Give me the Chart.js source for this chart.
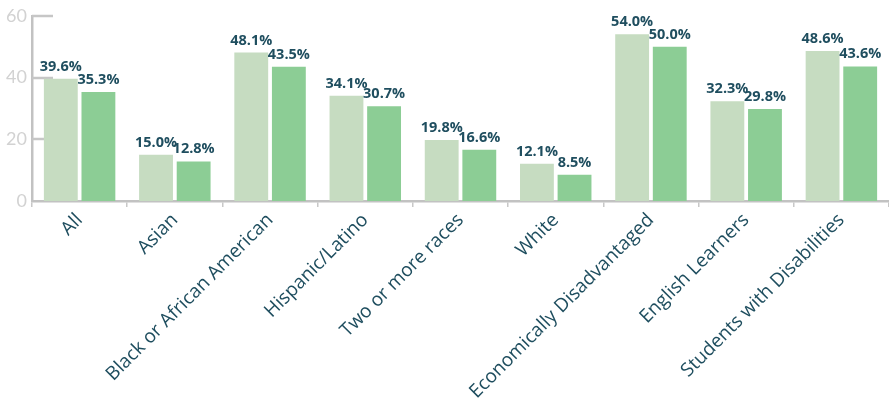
<!DOCTYPE html>
<html>
<head>
<meta charset="utf-8">
<script src="https://cdn.jsdelivr.net/npm/chart.js@4"></script>
<style>
  html, body { margin: 0; padding: 0; background: #ffffff; }
  #wrap { width: 889px; height: 404px; }
</style>
</head>
<body>
<div id="wrap"><canvas id="chart"></canvas></div>
<script>
// Subgroup categories along the x axis
var categories = [
    'All', 'Asian', 'Black or African American', 'Hispanic/Latino',
    'Two or more races', 'White', 'Economically Disadvantaged',
    'English Learners', 'Students with Disabilities'
];

// Two series (percent)
var seriesLight = [39.6, 15.0, 48.1, 34.1, 19.8, 12.1, 54.0, 32.3, 48.6];
var seriesDark  = [35.3, 12.8, 43.5, 30.7, 16.6, 8.5, 50.0, 29.8, 43.6];

// Y axis ticks
var yTicks = [0, 20, 40, 60];

var LABEL_COLOR = '#1f4e5f';

// Plugin: short inward tick marks on the y axis, drawn under the bars
var innerTicks = {
    id: 'innerTicks',
    beforeDatasetsDraw: function(chart) {
        var ctx = chart.ctx;
        var y = chart.scales.y;
        var left = chart.chartArea.left;
        ctx.save();
        ctx.strokeStyle = '#c6c6c6';
        ctx.lineWidth = 2.5;
        yTicks.forEach(function(v) {
            if (v === 0) return;
            var py = Math.round(y.getPixelForValue(v));
            ctx.beginPath();
            ctx.moveTo(left, py);
            ctx.lineTo(left + 21, py);
            ctx.stroke();
        });
        ctx.restore();
    }
};

// Plugin: value labels above each bar
var valueLabels = {
    id: 'valueLabels',
    afterDatasetsDraw: function(chart) {
        var ctx = chart.ctx;
        ctx.save();
        ctx.fillStyle = LABEL_COLOR;
        ctx.font = 'bold 14.5px "Open Sans", sans-serif';
        ctx.textAlign = 'center';
        ctx.textBaseline = 'alphabetic';
        chart.data.datasets.forEach(function(ds, di) {
            var meta = chart.getDatasetMeta(di);
            meta.data.forEach(function(bar, i) {
                ctx.fillText(ds.data[i].toFixed(1) + '%', bar.x, bar.y - 8);
            });
        });
        ctx.restore();
    }
};

new Chart(document.getElementById('chart'), {
    type: 'bar',
    data: {
        labels: categories,
        datasets: [{
            label: 'Series 1',
            data: seriesLight,
            backgroundColor: '#c6dcc1',
            categoryPercentage: 0.79,
            barPercentage: 0.9,
        }, {
            label: 'Series 2',
            data: seriesDark,
            backgroundColor: '#8ccd95',
            categoryPercentage: 0.79,
            barPercentage: 0.9,
        }],
    },
    options: {
        responsive: true,
        maintainAspectRatio: false,
        animation: false,
        layout: { padding: { top: 6, right: -3, left: 0, bottom: 0 } },
        plugins: {
            legend: { display: false },
            tooltip: { enabled: false },
        },
        scales: {
            y: {
                min: 0,
                max: 60,
                afterBuildTicks: function(scale) {
                    scale.ticks = yTicks.map(function(v) { return { value: v }; });
                },
                afterFit: function(scale) { scale.width = 32; },
                ticks: {
                    color: '#d2d2d2',
                    font: { size: 18, family: 'Lato, sans-serif' },
                    padding: 5,
                },
                grid: { display: false, drawTicks: false },
                border: { display: true, color: '#c2c2c2', width: 2.5 },
            },
            x: {
                afterFit: function(scale) { scale.height = 203; },
                ticks: {
                    color: LABEL_COLOR,
                    font: { size: 19, family: '"Open Sans", sans-serif' },
                    maxRotation: 45,
                    minRotation: 45,
                    autoSkip: false,
                    padding: 2,
                },
                grid: {
                    display: true,
                    offset: true,
                    drawOnChartArea: false,
                    drawTicks: true,
                    tickLength: 6,
                    color: '#c8c8c8',
                    lineWidth: 1.5,
                },
                border: { display: true, color: '#c2c2c2', width: 2.5 },
            },
        },
    },
    plugins: [innerTicks, valueLabels],
});
</script>
</body>
</html>
